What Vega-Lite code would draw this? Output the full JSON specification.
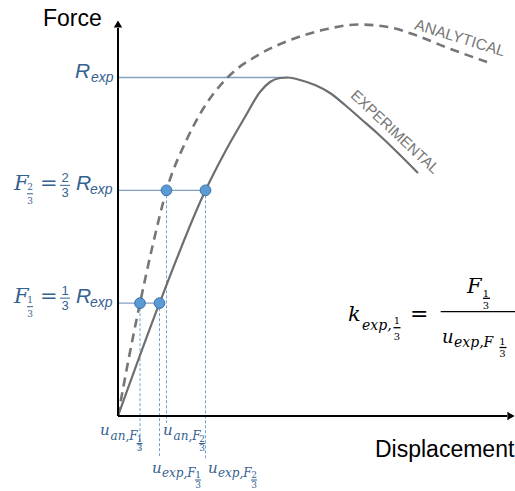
{
  "$schema": "https://vega.github.io/schema/vega-lite/v6.json",
  "width": 515,
  "height": 491,
  "autosize": "none",
  "padding": 0,
  "background": "white",
  "config": {"view": {"stroke": null}},
  "datasets": {
    "curves": [
      {"curve": "analytical", "x": 0, "y": 0},
      {"curve": "analytical", "x": 12, "y": 64},
      {"curve": "analytical", "x": 22, "y": 112.83},
      {"curve": "analytical", "x": 35, "y": 172},
      {"curve": "analytical", "x": 48.5, "y": 225.67},
      {"curve": "analytical", "x": 69, "y": 277},
      {"curve": "analytical", "x": 85, "y": 307},
      {"curve": "analytical", "x": 109, "y": 338},
      {"curve": "analytical", "x": 142, "y": 362},
      {"curve": "analytical", "x": 175, "y": 377},
      {"curve": "analytical", "x": 209, "y": 387},
      {"curve": "analytical", "x": 240, "y": 391.5},
      {"curve": "analytical", "x": 270, "y": 389},
      {"curve": "analytical", "x": 300, "y": 380},
      {"curve": "analytical", "x": 330, "y": 368},
      {"curve": "analytical", "x": 369, "y": 354},
      {"curve": "experimental", "x": 0, "y": 0},
      {"curve": "experimental", "x": 41.5, "y": 112.83},
      {"curve": "experimental", "x": 87.5, "y": 225.67},
      {"curve": "experimental", "x": 107, "y": 264},
      {"curve": "experimental", "x": 127, "y": 299},
      {"curve": "experimental", "x": 142, "y": 324},
      {"curve": "experimental", "x": 152, "y": 334},
      {"curve": "experimental", "x": 162, "y": 338},
      {"curve": "experimental", "x": 170, "y": 338.5},
      {"curve": "experimental", "x": 182, "y": 336},
      {"curve": "experimental", "x": 197, "y": 331},
      {"curve": "experimental", "x": 212, "y": 323},
      {"curve": "experimental", "x": 227, "y": 311},
      {"curve": "experimental", "x": 243, "y": 297},
      {"curve": "experimental", "x": 259, "y": 283},
      {"curve": "experimental", "x": 280, "y": 263},
      {"curve": "experimental", "x": 300, "y": 243}
    ],
    "hguides": [
      {"level": "R_exp", "x": 0, "x2": 170, "y": 338.5},
      {"level": "F_2/3", "x": 0, "x2": 87.5, "y": 225.67},
      {"level": "F_1/3", "x": 0, "x2": 41.5, "y": 112.83}
    ],
    "vguides": [
      {"point": "u_an,F1/3", "x": 22, "y": 112.83, "y2": -34},
      {"point": "u_exp,F1/3", "x": 41.5, "y": 112.83, "y2": -41},
      {"point": "u_an,F2/3", "x": 48.5, "y": 225.67, "y2": -7},
      {"point": "u_exp,F2/3", "x": 87.5, "y": 225.67, "y2": -43}
    ],
    "dots": [
      {"curve": "analytical", "x": 22, "y": 112.83},
      {"curve": "experimental", "x": 41.5, "y": 112.83},
      {"curve": "analytical", "x": 48.5, "y": 225.67},
      {"curve": "experimental", "x": 87.5, "y": 225.67}
    ],
    "axes": [
      {"axis": "force", "x": 0, "x2": 0, "y": 0, "y2": 388},
      {"axis": "displacement", "x": 0, "x2": 389, "y": 0, "y2": 0}
    ],
    "labels": [
      {"grp": "title", "t": "Force", "x": -75, "y": 390},
      {"grp": "title", "t": "Displacement", "x": 257, "y": -41},
      {"grp": "curve", "t": "ANALYTICAL", "x": 342, "y": 378},
      {"grp": "curve", "t": "EXPERIMENTAL", "x": 277, "y": 284},

      {"grp": "rsans", "role": "main", "t": "R", "x": -43, "y": 338.5},
      {"grp": "rsans", "role": "sub", "t": "exp", "x": -27, "y": 334.5},
      {"grp": "rsans", "role": "main", "t": "R", "x": -42, "y": 225.67},
      {"grp": "rsans", "role": "sub", "t": "exp", "x": -28, "y": 221.67},
      {"grp": "rsans", "role": "main", "t": "R", "x": -42, "y": 112.83},
      {"grp": "rsans", "role": "sub", "t": "exp", "x": -28, "y": 108.83},

      {"grp": "fracsans", "t": "2", "x": -53, "y": 233.67},
      {"grp": "fracsans", "t": "3", "x": -53, "y": 218.67},
      {"grp": "fracsans", "t": "1", "x": -53, "y": 120.83},
      {"grp": "fracsans", "t": "3", "x": -53, "y": 105.83},

      {"grp": "serifit", "role": "main", "t": "F", "x": -104, "y": 225.67},
      {"grp": "serifit", "role": "main", "t": "F", "x": -104, "y": 112.83},
      {"grp": "serifit", "role": "umain", "t": "u", "x": -18, "y": -19},
      {"grp": "serifit", "role": "usub", "t": "an,F", "x": -7.5, "y": -24},
      {"grp": "serifit", "role": "umain", "t": "u", "x": 45, "y": -19},
      {"grp": "serifit", "role": "usub", "t": "an,F", "x": 55.5, "y": -24},
      {"grp": "serifit", "role": "umain", "t": "u", "x": 34, "y": -57},
      {"grp": "serifit", "role": "usub", "t": "exp,F", "x": 44, "y": -61},
      {"grp": "serifit", "role": "umain", "t": "u", "x": 90, "y": -57},
      {"grp": "serifit", "role": "usub", "t": "exp,F", "x": 100, "y": -61},

      {"grp": "eqblue", "t": "=", "x": -78, "y": 225.67},
      {"grp": "eqblue", "t": "=", "x": -78, "y": 112.83},

      {"grp": "tinyblue", "t": "2", "x": -88, "y": 225.67},
      {"grp": "tinyblue", "t": "3", "x": -88, "y": 212.2},
      {"grp": "tinyblue", "t": "1", "x": -88, "y": 112.83},
      {"grp": "tinyblue", "t": "3", "x": -88, "y": 99.4},
      {"grp": "tinyblue", "t": "1", "x": 21.5, "y": -26},
      {"grp": "tinyblue", "t": "3", "x": 21.5, "y": -35},
      {"grp": "tinyblue", "t": "2", "x": 84, "y": -26},
      {"grp": "tinyblue", "t": "3", "x": 84, "y": -35},
      {"grp": "tinyblue", "t": "1", "x": 80, "y": -62},
      {"grp": "tinyblue", "t": "3", "x": 80, "y": -72},
      {"grp": "tinyblue", "t": "2", "x": 136, "y": -62},
      {"grp": "tinyblue", "t": "3", "x": 136, "y": -72},

      {"grp": "kit", "role": "kmain", "t": "k", "x": 230, "y": 95},
      {"grp": "kit", "role": "ksub", "t": "exp,", "x": 244, "y": 86},
      {"grp": "kit", "role": "kmain", "t": "F", "x": 349, "y": 123},
      {"grp": "kit", "role": "kden", "t": "u", "x": 324, "y": 73},
      {"grp": "kit", "role": "ksub", "t": "exp,F", "x": 336, "y": 69},

      {"grp": "keq", "t": "=", "x": 292, "y": 95},

      {"grp": "ktiny", "t": "1", "x": 279, "y": 92},
      {"grp": "ktiny", "t": "3", "x": 279, "y": 76},
      {"grp": "ktiny", "t": "1", "x": 368, "y": 119.5},
      {"grp": "ktiny", "t": "3", "x": 368, "y": 107},
      {"grp": "ktiny", "t": "1", "x": 384.5, "y": 71},
      {"grp": "ktiny", "t": "3", "x": 384.5, "y": 59}
    ],
    "bars": [
      {"grp": "legend", "x": -58, "x2": -48, "y": 230.67},
      {"grp": "legend", "x": -58, "x2": -48, "y": 117.83},
      {"grp": "legend", "x": -91, "x2": -85, "y": 222.2},
      {"grp": "legend", "x": -91, "x2": -85, "y": 109.3},
      {"grp": "legend", "x": 18.5, "x2": 24.5, "y": -27.5},
      {"grp": "legend", "x": 81, "x2": 87, "y": -27.5},
      {"grp": "legend", "x": 77, "x2": 83, "y": -64},
      {"grp": "legend", "x": 133, "x2": 139, "y": -64},
      {"grp": "formula", "x": 275.5, "x2": 282.5, "y": 88.3},
      {"grp": "formula", "x": 365, "x2": 372, "y": 117.7},
      {"grp": "formula", "x": 381.5, "x2": 388.5, "y": 68.5},
      {"grp": "formula", "x": 322.7, "x2": 397, "y": 104.3}
    ]
  },
  "encoding": {
    "x": {"field": "x", "type": "quantitative", "scale": {"domain": [-118, 397], "nice": false, "zero": false}, "axis": null},
    "y": {"field": "y", "type": "quantitative", "scale": {"domain": [-75, 416], "nice": false, "zero": false}, "axis": null}
  },
  "layer": [
    {
      "data": {"name": "hguides"},
      "mark": {"type": "rule", "color": "#839fc2", "strokeWidth": 1.4},
      "encoding": {"x2": {"field": "x2"}}
    },
    {
      "data": {"name": "vguides"},
      "mark": {"type": "rule", "color": "#6fa0d8", "strokeWidth": 1, "strokeDash": [3, 2]},
      "encoding": {"y2": {"field": "y2"}}
    },
    {
      "data": {"name": "curves"},
      "transform": [{"filter": "datum.curve === 'analytical'"}],
      "mark": {"type": "line", "interpolate": "monotone", "color": "#767676", "strokeWidth": 2.6, "strokeDash": [9, 6]},
      "encoding": {"order": {"field": "x", "type": "quantitative"}}
    },
    {
      "data": {"name": "curves"},
      "transform": [{"filter": "datum.curve === 'experimental'"}],
      "mark": {"type": "line", "interpolate": "monotone", "color": "#6e6e6e", "strokeWidth": 2.2},
      "encoding": {"order": {"field": "x", "type": "quantitative"}}
    },
    {
      "data": {"name": "axes"},
      "mark": {"type": "rule", "color": "black", "strokeWidth": 2},
      "encoding": {"x2": {"field": "x2"}, "y2": {"field": "y2"}}
    },
    {
      "data": {"values": [{"axis": "force", "x": 0, "y": 392}]},
      "mark": {"type": "point", "shape": "triangle-up", "filled": true, "color": "black", "size": 70, "opacity": 1},
      "encoding": {}
    },
    {
      "data": {"values": [{"axis": "displacement", "x": 393, "y": 0}]},
      "mark": {"type": "point", "shape": "triangle-right", "filled": true, "color": "black", "size": 70, "opacity": 1},
      "encoding": {}
    },
    {
      "data": {"name": "dots"},
      "mark": {"type": "point", "shape": "circle", "filled": true, "fill": "#5b9bd5", "stroke": "#3c6fa8", "strokeWidth": 1, "size": 115, "opacity": 1},
      "encoding": {}
    },
    {
      "data": {"name": "bars"},
      "transform": [{"filter": "datum.grp === 'legend'"}],
      "mark": {"type": "rule", "color": "#34618f", "strokeWidth": 1},
      "encoding": {"x2": {"field": "x2"}}
    },
    {
      "data": {"name": "bars"},
      "transform": [{"filter": "datum.grp === 'formula'"}],
      "mark": {"type": "rule", "color": "black", "strokeWidth": 1.3},
      "encoding": {"x2": {"field": "x2"}}
    },
    {
      "data": {"name": "labels"},
      "transform": [{"filter": "datum.grp === 'title'"}],
      "mark": {"type": "text", "font": "Liberation Sans", "fontSize": 23, "color": "black", "align": "left", "baseline": "alphabetic"},
      "encoding": {"text": {"field": "t"}}
    },
    {
      "data": {"name": "labels"},
      "transform": [{"filter": "datum.t === 'ANALYTICAL'"}],
      "mark": {"type": "text", "font": "Liberation Sans", "fontSize": 15.5, "color": "#777777", "align": "center", "baseline": "middle", "angle": 17},
      "encoding": {"text": {"field": "t"}}
    },
    {
      "data": {"name": "labels"},
      "transform": [{"filter": "datum.t === 'EXPERIMENTAL'"}],
      "mark": {"type": "text", "font": "Liberation Sans", "fontSize": 15, "color": "#777777", "align": "center", "baseline": "middle", "angle": 43},
      "encoding": {"text": {"field": "t"}}
    },
    {
      "data": {"name": "labels"},
      "transform": [{"filter": "datum.grp === 'rsans'"}],
      "mark": {"type": "text", "font": "Liberation Sans", "fontStyle": "italic", "color": "#34618f", "align": "left", "baseline": "alphabetic"},
      "encoding": {
        "text": {"field": "t"},
        "size": {"field": "role", "type": "nominal", "legend": null, "scale": {"domain": ["main", "sub"], "range": [21, 14]}}
      }
    },
    {
      "data": {"name": "labels"},
      "transform": [{"filter": "datum.grp === 'fracsans'"}],
      "mark": {"type": "text", "font": "Liberation Sans", "fontSize": 13, "color": "#34618f", "align": "center", "baseline": "alphabetic"},
      "encoding": {"text": {"field": "t"}}
    },
    {
      "data": {"name": "labels"},
      "transform": [{"filter": "datum.grp === 'serifit' && datum.role === 'main'"}],
      "mark": {"type": "text", "font": "DejaVu Serif", "fontStyle": "italic", "fontSize": 21, "color": "#34618f", "align": "left", "baseline": "alphabetic"},
      "encoding": {"text": {"field": "t"}}
    },
    {
      "data": {"name": "labels"},
      "transform": [{"filter": "datum.grp === 'serifit' && datum.role === 'umain'"}],
      "mark": {"type": "text", "font": "DejaVu Serif", "fontStyle": "italic", "fontSize": 15, "color": "#34618f", "align": "left", "baseline": "alphabetic"},
      "encoding": {"text": {"field": "t"}}
    },
    {
      "data": {"name": "labels"},
      "transform": [{"filter": "datum.grp === 'serifit' && datum.role === 'usub'"}],
      "mark": {"type": "text", "font": "DejaVu Serif", "fontStyle": "italic", "fontSize": 12, "color": "#34618f", "align": "left", "baseline": "alphabetic"},
      "encoding": {"text": {"field": "t"}}
    },
    {
      "data": {"name": "labels"},
      "transform": [{"filter": "datum.grp === 'eqblue'"}],
      "mark": {"type": "text", "font": "DejaVu Serif", "fontSize": 21, "color": "#34618f", "align": "left", "baseline": "alphabetic"},
      "encoding": {"text": {"field": "t"}}
    },
    {
      "data": {"name": "labels"},
      "transform": [{"filter": "datum.grp === 'tinyblue'"}],
      "mark": {"type": "text", "font": "DejaVu Serif", "fontSize": 9, "color": "#34618f", "align": "center", "baseline": "alphabetic"},
      "encoding": {"text": {"field": "t"}}
    },
    {
      "data": {"name": "labels"},
      "transform": [{"filter": "datum.grp === 'kit' && datum.role === 'kmain'"}],
      "mark": {"type": "text", "font": "DejaVu Serif", "fontStyle": "italic", "fontSize": 21, "color": "black", "align": "left", "baseline": "alphabetic"},
      "encoding": {"text": {"field": "t"}}
    },
    {
      "data": {"name": "labels"},
      "transform": [{"filter": "datum.grp === 'kit' && datum.role === 'kden'"}],
      "mark": {"type": "text", "font": "DejaVu Serif", "fontStyle": "italic", "fontSize": 18, "color": "black", "align": "left", "baseline": "alphabetic"},
      "encoding": {"text": {"field": "t"}}
    },
    {
      "data": {"name": "labels"},
      "transform": [{"filter": "datum.grp === 'kit' && datum.role === 'ksub'"}],
      "mark": {"type": "text", "font": "DejaVu Serif", "fontStyle": "italic", "fontSize": 14, "color": "black", "align": "left", "baseline": "alphabetic"},
      "encoding": {"text": {"field": "t"}}
    },
    {
      "data": {"name": "labels"},
      "transform": [{"filter": "datum.grp === 'keq'"}],
      "mark": {"type": "text", "font": "DejaVu Serif", "fontSize": 22, "color": "black", "align": "left", "baseline": "alphabetic"},
      "encoding": {"text": {"field": "t"}}
    },
    {
      "data": {"name": "labels"},
      "transform": [{"filter": "datum.grp === 'ktiny'"}],
      "mark": {"type": "text", "font": "DejaVu Serif", "fontSize": 10, "color": "black", "align": "center", "baseline": "alphabetic"},
      "encoding": {"text": {"field": "t"}}
    }
  ]
}
